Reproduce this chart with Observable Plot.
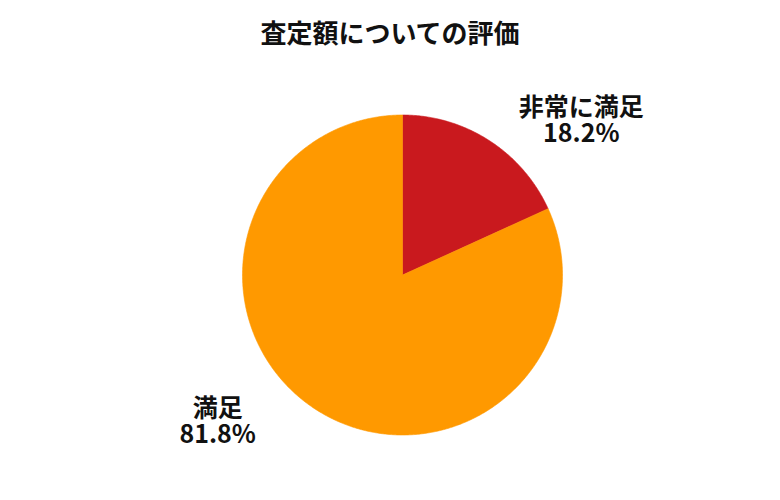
<!DOCTYPE html>
<html>
<head>
<meta charset="utf-8">
<script src="https://cdn.jsdelivr.net/npm/d3@7"></script>
<script src="https://cdn.jsdelivr.net/npm/@observablehq/plot@0.6"></script>
<style>
  html, body { margin: 0; padding: 0; background: #fff; }
  #wrap { width: 780px; height: 500px; font-family: "Noto Sans CJK JP", "Noto Sans", sans-serif; }
  #title { height: 67px; display: flex; align-items: center; justify-content: center;
           font-size: 26px; font-weight: bold; color: #111; padding-bottom: 4px; box-sizing: border-box; }
</style>
</head>
<body>
<div id="wrap">
  <div id="title">査定額についての評価</div>
  <div id="chart"></div>
</div>
<script>
const titleText = "査定額についての評価";
const categories = ["非常に満足", "満足"];
const values = [18.2, 81.8];
const colors = ["#c9191e", "#ff9900"];

const arcs = d3.pie().sort(null).value(d => d)(values).map((a, i) => ({
  category: categories[i],
  value: values[i],
  start: a.startAngle,
  end: a.endAngle,
  mid: (a.startAngle + a.endAngle) / 2
}));

// polygon points for each slice (unit circle, angle 0 at top, clockwise)
const points = [];
for (const a of arcs) {
  points.push({category: a.category, x: 0, y: 0});
  const n = Math.max(2, Math.ceil((a.end - a.start) / (Math.PI / 360)));
  for (let k = 0; k <= n; k++) {
    const t = a.start + (a.end - a.start) * k / n;
    points.push({category: a.category, x: Math.sin(t), y: Math.cos(t)});
  }
  points.push({category: a.category, x: 0, y: 0});
}

const labels = arcs.map(a => ({
  text: `${a.category}\n${a.value}%`,
  x: 2.1 * Math.sin(a.mid),
  y: 1.12 * Math.cos(a.mid)
}));

const chart = Plot.plot({
  width: 780,
  height: 433,
  marginLeft: 242,
  marginRight: 218,
  marginTop: 47.5,
  marginBottom: 65.5,
  x: {domain: [-1, 1], axis: null},
  y: {domain: [-1, 1], axis: null},
  color: {domain: categories, range: colors},
  style: {fontFamily: '"Noto Sans CJK JP", "Noto Sans", sans-serif', background: "#fff"},
  marks: [
    Plot.line(points, {x: "x", y: "y", z: "category", fill: "category", stroke: "category", strokeWidth: 0.6}),
    Plot.text(labels, {x: "x", y: "y", text: "text", fontSize: 25, fontWeight: "bold", fill: "#111", lineHeight: 1.06, dx: -3, dy: -4})
  ]
});
document.getElementById("chart").appendChild(chart);
</script>
</body>
</html>
